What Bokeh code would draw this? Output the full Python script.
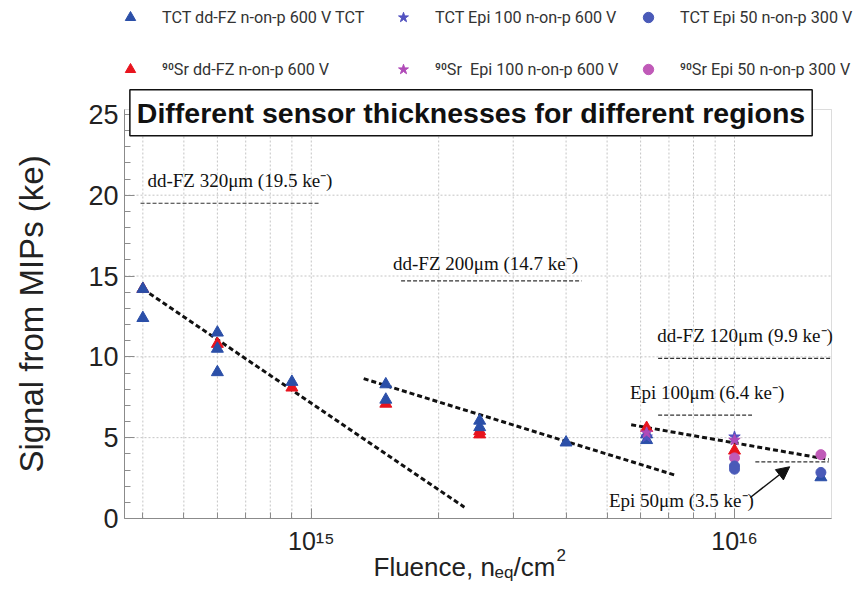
import math
from bokeh.plotting import figure
from bokeh.models import (Range1d, FixedTicker, CustomJSTickFormatter, Label, Legend,
                          LegendItem, Arrow, NormalHead, BoxAnnotation)
from bokeh.embed import file_html
from bokeh.resources import INLINE

# Collected charge (ke) versus fluence (n_eq/cm^2)
tct_ddfz_x = [4e14, 4e14, 6e14, 6e14, 6e14, 9e14, 1.5e15, 1.5e15, 2.5e15, 2.5e15, 4e15, 6.2e15, 6.2e15, 1.6e16]
tct_ddfz_y = [14.2, 12.4, 11.5, 10.5, 9.05, 8.45, 8.3, 7.35, 6.05, 5.65, 4.7, 5.2, 4.85, 2.55]
sr_ddfz_x = [4e14, 6e14, 9e14, 1.5e15, 2.5e15, 2.5e15, 6.2e15, 1e16]
sr_ddfz_y = [14.2, 10.8, 8.1, 7.1, 5.4, 5.2, 5.6, 4.2]
tct_epi100_x = [6.2e15, 1e16]
tct_epi100_y = [5.05, 5.05]
sr_epi100_x = [6.2e15, 1e16]
sr_epi100_y = [5.3, 4.85]
tct_epi50_x = [1e16, 1e16, 1.6e16]
tct_epi50_y = [3.25, 3.05, 2.85]
sr_epi50_x = [1e16, 1.6e16]
sr_epi50_y = [3.75, 3.95]

series_labels = [
    "TCT dd-FZ n-on-p 600 V TCT", "⁹⁰Sr dd-FZ n-on-p 600 V",
    "TCT Epi 100 n-on-p 600 V", "⁹⁰Sr  Epi 100 n-on-p 600 V",
    "TCT Epi 50 n-on-p 300 V", "⁹⁰Sr Epi 50 n-on-p 300 V",
]

# Trend lines for each thickness region
trend_x = [[4e14, 2.3e15], [1.33e15, 7.3e15], [5.7e15, 1.67e16]]
trend_y = [[14.2, 0.7], [8.65, 2.65], [5.8, 3.65]]

# Unirradiated MIP signal for each sensor type
ref_names = ["dd-FZ 320μm", "dd-FZ 200μm", "dd-FZ 120μm", "Epi 100μm", "Epi 50μm"]
ref_signal = [19.5, 14.7, 9.9, 6.4, 3.5]
ref_x0 = [3.95e14, 1.63e15, 6.6e15, 6.6e15, 1.12e16]
ref_x1 = [1.05e15, 4.35e15, 1.69e16, 1.1e16, 1.67e16]

# Axis ranges and ticks
X_LO, X_HI = 3.62e14, 1.695e16
Y_LO, Y_HI = 0.0, 25.3
x_major = [1e15, 1e16]
x_minor = [4e14, 5e14, 6e14, 7e14, 8e14, 9e14,
           2e15, 3e15, 4e15, 5e15, 6e15, 7e15, 8e15, 9e15]
y_major = [0, 5, 10, 15, 20, 25]
y_minor = [1, 2, 3, 4, 6, 7, 8, 9, 11, 12, 13, 14, 16, 17, 18, 19, 21, 22, 23, 24]
y_grid = [5, 10, 15, 20]

SANS = "Liberation Sans"
SERIF = "Liberation Serif"
AXIS_GREY = "#8c8c8c"

# The drawing area covers the whole canvas so that the legend, headline and
# axis title can sit around the data box; the axes are pinned to the box edges.
W, H = 860, 590
M_LEFT, M_RIGHT, M_TOP, M_BOTTOM = 124, 29, 109, 72
px_per_dec = (W - M_LEFT - M_RIGHT) / math.log10(X_HI / X_LO)
px_per_unit = (H - M_TOP - M_BOTTOM) / (Y_HI - Y_LO)
x_start = X_LO / 10 ** (M_LEFT / px_per_dec)
x_end = X_HI * 10 ** (M_RIGHT / px_per_dec)
y_start = Y_LO - M_BOTTOM / px_per_unit
y_end = Y_HI + M_TOP / px_per_unit

p = figure(width=W, height=H, x_axis_type="log",
           x_range=Range1d(x_start, x_end), y_range=Range1d(y_start, y_end),
           output_backend="svg", toolbar_location=None,
           min_border_left=0, min_border_right=0, min_border_top=0, min_border_bottom=0)
p.outline_line_color = None
p.background_fill_color = "white"
p.grid.visible = False

# dotted grid inside the data box
grid_x = sorted(x_major + x_minor)
p.segment(x0=grid_x, y0=[Y_LO] * len(grid_x), x1=grid_x, y1=[Y_HI] * len(grid_x),
          line_color="#c4c4c4", line_width=1, line_dash="2 2")
p.segment(x0=[X_LO] * len(y_grid), y0=y_grid, x1=[X_HI] * len(y_grid), y1=y_grid,
          line_color="#c4c4c4", line_width=1, line_dash="2 2")
p.add_layout(BoxAnnotation(left=X_LO, right=X_HI, bottom=Y_LO, top=Y_HI,
                           fill_alpha=0, line_color=AXIS_GREY, line_width=1))

xa = p.xaxis[0]
xa.fixed_location = Y_LO
xa.bounds = (X_LO, X_HI)
xa.ticker = FixedTicker(ticks=x_major, minor_ticks=x_minor)
xa.formatter = CustomJSTickFormatter(code="""
const sup = {"0":"\u2070","1":"\u00b9","2":"\u00b2","3":"\u00b3","4":"\u2074",
             "5":"\u2075","6":"\u2076","7":"\u2077","8":"\u2078","9":"\u2079","-":"\u207b"};
const e = String(Math.round(Math.log10(tick)));
return "10" + e.split("").map(c => sup[c]).join("");
""")
ya = p.yaxis[0]
ya.fixed_location = X_LO
ya.bounds = (Y_LO, Y_HI)
ya.ticker = FixedTicker(ticks=y_major, minor_ticks=y_minor)
ya.axis_label = "Signal from MIPs (ke)"
ya.axis_label_text_font = SANS
ya.axis_label_text_font_size = "33px"
ya.axis_label_text_font_style = "normal"
ya.axis_label_text_color = "#222"
ya.axis_label_standoff = 35
ya.major_label_standoff = 6
xa.major_label_standoff = 8
xa.major_label_text_font_size = "25px"
ya.major_label_text_font_size = "27px"
for ax in (xa, ya):
    ax.major_label_text_font = SANS
    ax.major_label_text_color = "#222"
    ax.axis_line_color = AXIS_GREY
    ax.major_tick_line_color = AXIS_GREY
    ax.minor_tick_line_color = AXIS_GREY
    ax.major_tick_in = 10
    ax.major_tick_out = 0
    ax.minor_tick_in = 6
    ax.minor_tick_out = 0

# Reference levels and their captions
p.segment(x0=ref_x0, y0=ref_signal, x1=ref_x1, y1=ref_signal,
          line_color="#333", line_width=1.2, line_dash="4 2")
caption_pos = [(4.1e14, 20.9), (1.56e15, 15.77), (6.57e15, 11.32), (5.66e15, 7.81), (5.05e15, 1.1)]
for name, val, (cx, cy) in zip(ref_names, ref_signal, caption_pos):
    p.add_layout(Label(x=cx, y=cy, text=f"{name} ({val} ke\u207b)",
                       text_font=SERIF, text_font_size="19px",
                       text_baseline="middle", text_color="#111"))

# Trend lines
p.multi_line(trend_x, trend_y, line_color="#111", line_width=3, line_dash="5 3")

# Measurements
r_sr_ddfz = p.scatter(sr_ddfz_x, sr_ddfz_y, marker="triangle", size=12,
                      fill_color="#e8141e", line_color="#e8141e")
r_tct_ddfz = p.scatter(tct_ddfz_x, tct_ddfz_y, marker="triangle", size=12,
                       fill_color="#2b4fa8", line_color="#2b4fa8")
r_tct_epi100 = p.scatter(tct_epi100_x, tct_epi100_y, marker="star", size=12,
                         fill_color="#5252c0", line_color="#5252c0")
r_sr_epi100 = p.scatter(sr_epi100_x, sr_epi100_y, marker="star", size=12,
                        fill_color="#b04ab8", line_color="#b04ab8")
r_sr_epi50 = p.scatter(sr_epi50_x, sr_epi50_y, marker="circle", size=10,
                       fill_color="#c05ab8", line_color="#c05ab8")
r_tct_epi50 = p.scatter(tct_epi50_x, tct_epi50_y, marker="circle", size=10,
                        fill_color="#4a5ab8", line_color="#4a5ab8")

# Arrow pointing to the Epi 50 level
p.add_layout(Arrow(end=NormalHead(size=13, fill_color="#111", line_color="#111"),
                   x_start=1.09e16, y_start=1.3, x_end=1.35e16, y_end=3.2,
                   line_color="#111", line_width=1.5))

# Boxed headline with a soft drop shadow
headline = "Different sensor thicknesses for different regions"
head_style = dict(x=2.385e15, y=25.1, text=headline, text_align="center",
                  text_baseline="middle", text_font=SANS, text_font_style="bold",
                  text_font_size="28.5px", padding=7)
p.add_layout(Label(**head_style, x_offset=3, y_offset=-3, text_alpha=0,
                   background_fill_color="#9a9a9a", background_fill_alpha=0.55))
p.add_layout(Label(**head_style, text_color="#111", background_fill_color="white",
                   border_line_color="#111", border_line_width=1.5))

# X axis title with sub- and superscript pieces (screen px from bottom-left)
xlab = [("Fluence, n", 373, 24, "26px"), ("eq", 494, 18, "17px"),
        ("/cm", 513, 24, "26px"), ("2", 556, 36, "17px")]
for t, sx, sy, fs in xlab:
    p.add_layout(Label(x=sx, y=sy, x_units="screen", y_units="screen", text=t,
                       text_font=SANS, text_font_size=fs, text_color="#222",
                       text_baseline="alphabetic"))

# Legend: three columns of two entries above the data box
renderers = [r_tct_ddfz, r_sr_ddfz, r_tct_epi100, r_sr_epi100, r_tct_epi50, r_sr_epi50]
col_left = [117, 390, 635]
for c, lx in enumerate(col_left):
    items = [LegendItem(label=series_labels[2 * c + k], renderers=[renderers[2 * c + k]])
             for k in range(2)]
    leg = Legend(items=items, location=(lx, H - 82), orientation="vertical",
                 background_fill_alpha=0, border_line_alpha=0, padding=0, margin=0,
                 spacing=26, glyph_width=26, glyph_height=26, label_standoff=19,
                 label_text_font="Roboto", label_text_font_size="16.2px",
                 label_text_color="#333")
    p.add_layout(leg)

open("out.html", "w").write(file_html(p, INLINE, "Signal from MIPs"))
